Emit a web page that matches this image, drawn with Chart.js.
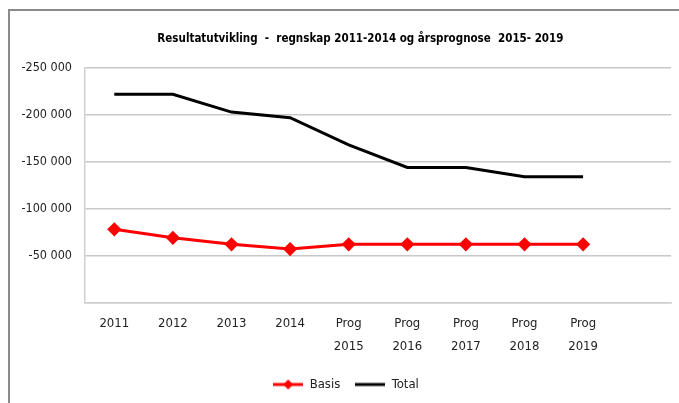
<!DOCTYPE html>
<html lang="no">
<head>
<meta charset="UTF-8">
<title>Resultatutvikling</title>
<script src="https://cdn.jsdelivr.net/npm/chart.js@4.4.1/dist/chart.umd.min.js"></script>
<style>
  body { margin: 0; background: #fff; }
  #wrap { position: relative; width: 679px; height: 403px; overflow: hidden; }
  #frame { position: absolute; left: 8px; top: 9px; width: 700px; height: 420px;
           border-top: 2px solid #8a8a8a; border-left: 2px solid #8a8a8a; pointer-events: none; }
</style>
</head>
<body>
<div id="wrap">
  <canvas id="chart" width="679" height="403"></canvas>
  <div id="frame"></div>
</div>
<script>
// kategorier og verdier lest av bildet
const categories = [['2011'], ['2012'], ['2013'], ['2014'], ['Prog', '2015'], ['Prog', '2016'], ['Prog', '2017'], ['Prog', '2018'], ['Prog', '2019']];
const basis = [-78000, -69000, -62000, -57000, -62000, -62000, -62000, -62000, -62000];
const total = [-222000, -222000, -203000, -197000, -168000, -144000, -144000, -134000, -134000];
const yTicks = [-250000, -200000, -150000, -100000, -50000, 0];
const titleText = 'Resultatutvikling  -  regnskap 2011-2014 og årsprognose  2015- 2019';

const font = "'DejaVu Sans Condensed', 'DejaVu Sans', sans-serif";

// små ikoner til forklaringen (linje med/uten markør)
function legendIcon(color, diamond) {
  const c = document.createElement('canvas');
  c.width = 30; c.height = 12;
  const g = c.getContext('2d');
  g.strokeStyle = color; g.lineWidth = 3;
  g.beginPath(); g.moveTo(0, 6); g.lineTo(30, 6); g.stroke();
  if (diamond) {
    g.fillStyle = color;
    g.beginPath(); g.moveTo(15, 1); g.lineTo(20, 6); g.lineTo(15, 11); g.lineTo(10, 6); g.closePath(); g.fill();
  }
  return c;
}

// tittel litt til venstre for midten av plottet, som i Excel-originalen
const titlePlugin = {
  id: 'excelTitle',
  afterDraw(chart) {
    const { ctx, chartArea } = chart;
    ctx.save();
    ctx.font = 'bold 11.5px ' + font;
    ctx.fillStyle = '#000';
    ctx.textAlign = 'center';
    ctx.textBaseline = 'middle';
    ctx.fillText(titleText, chartArea.left + (chartArea.right - chartArea.left) * 0.47, chartArea.top - 29);
    ctx.restore();
  }
};

new Chart(document.getElementById('chart'), {
  type: 'line',
  data: {
    labels: [...categories, ''], // Excel-plottet har en tom plass til høyre
    datasets: [
      { label: 'Basis', data: basis, borderColor: '#ff0000', backgroundColor: '#ff0000',
        borderWidth: 3, pointStyle: 'rectRot', pointRadius: 5, pointHoverRadius: 5, tension: 0 },
      { label: 'Total', data: total, borderColor: '#000000', backgroundColor: '#000000',
        borderWidth: 3, pointRadius: 0, tension: 0 }
    ]
  },
  plugins: [titlePlugin],
  options: {
    responsive: false,
    animation: false,
    layout: { padding: { left: 19, right: 6, top: 68, bottom: 2 } },
    plugins: {
      title: { display: false },
      legend: {
        position: 'bottom',
        labels: {
          usePointStyle: true, pointStyleWidth: 30, boxWidth: 30, boxHeight: 12,
          color: '#222', font: { family: font, size: 13 }, padding: 15,
          generateLabels: chart => chart.data.datasets.map((d, i) => ({
            text: d.label, datasetIndex: i, fontColor: '#222',
            pointStyle: legendIcon(d.borderColor, i === 0)
          }))
        }
      },
      tooltip: { enabled: false }
    },
    scales: {
      x: {
        offset: true,
        afterFit: s => { s.height = 60.5; },
        ticks: { color: '#222', font: { family: font, size: 13, lineHeight: 1.75 },
                 padding: 2, maxRotation: 0, autoSkip: false },
        grid: { display: false },
        border: { display: true, color: '#d0d0d0', width: 1.5 }
      },
      y: {
        reverse: true, min: -250000, max: 0,
        afterBuildTicks: s => { s.ticks = yTicks.map(v => ({ value: v })); },
        afterFit: s => { s.width = 66; },
        ticks: { callback: v => v === 0 ? '' : '-' + Math.abs(v).toLocaleString('nb-NO').replace(/\s/g, ' '),
                 color: '#222', font: { family: font, size: 12.5 }, padding: 13 },
        grid: { color: '#c8c8c8', lineWidth: 1.5, drawTicks: false },
        border: { display: true, color: '#d0d0d0', width: 1.5 }
      }
    }
  }
});
</script>
</body>
</html>
